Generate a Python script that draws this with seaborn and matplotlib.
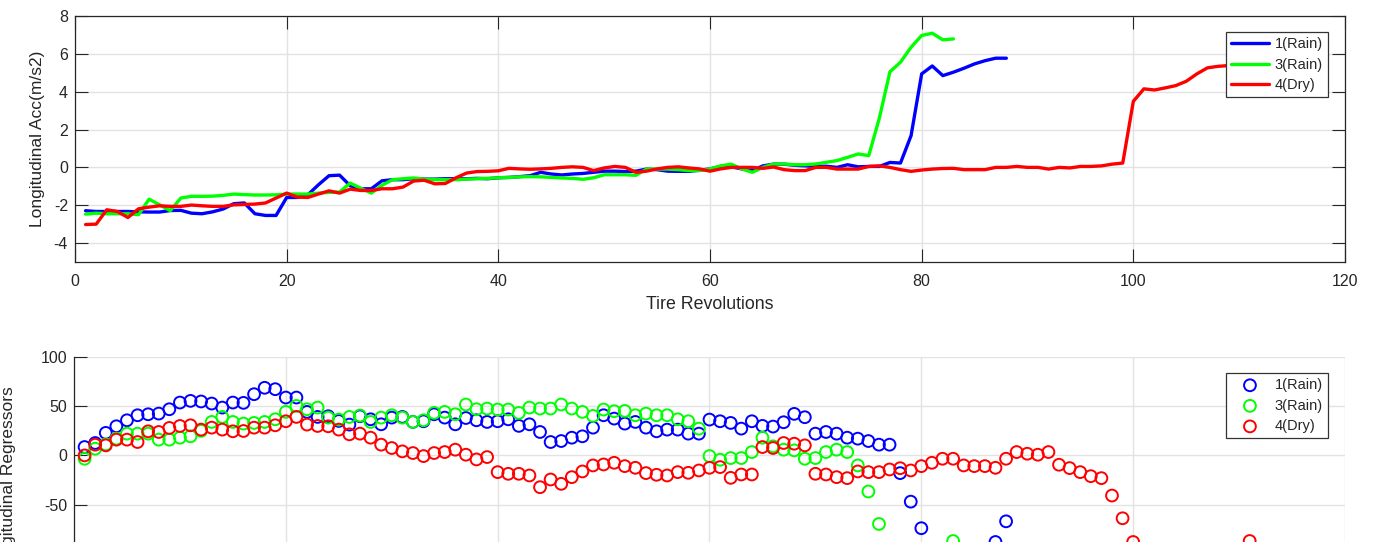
import matplotlib
matplotlib.use("Agg")
import matplotlib.pyplot as plt
import numpy as np
import pandas as pd
import seaborn as sns

# Series names and colours
runs = ["1(Rain)", "3(Rain)", "4(Dry)"]
run_colors = ["#0000ff", "#00ff00", "#ff0000"]

# Longitudinal acceleration per tire revolution (m/s2)
acc_rain1 = [-2.29, -2.33, -2.33, -2.33, -2.33, -2.35, -2.36, -2.36, -2.28, -2.27,
             -2.42, -2.45, -2.35, -2.20, -1.92, -1.88, -2.45, -2.54, -2.54, -1.59,
             -1.59, -1.45, -0.92, -0.44, -0.41, -0.97, -1.13, -1.13, -0.71, -0.65,
             -0.65, -0.60, -0.62, -0.62, -0.60, -0.60, -0.60, -0.58, -0.60, -0.55,
             -0.53, -0.49, -0.44, -0.26, -0.35, -0.40, -0.35, -0.32, -0.26, -0.20,
             -0.20, -0.22, -0.20, -0.09, -0.12, -0.20, -0.21, -0.21, -0.15, -0.08,
             0.05, 0.03, -0.08, -0.17, 0.08, 0.17, 0.17, 0.11, 0.08, 0.05,
             0.06, 0.00, 0.14, 0.03, 0.05, 0.05, 0.26, 0.23, 1.68, 4.94,
             5.36, 4.85, 5.03, 5.24, 5.47, 5.64, 5.77, 5.77]
acc_rain3 = [-2.47, -2.42, -2.45, -2.45, -2.45, -2.50, -1.68, -1.98, -2.29, -1.62,
             -1.53, -1.53, -1.52, -1.48, -1.41, -1.44, -1.46, -1.46, -1.45, -1.41,
             -1.41, -1.41, -1.36, -1.32, -1.30, -0.83, -1.10, -1.36, -0.95, -0.65,
             -0.60, -0.56, -0.62, -0.65, -0.65, -0.65, -0.62, -0.60, -0.58, -0.55,
             -0.53, -0.50, -0.49, -0.50, -0.53, -0.56, -0.58, -0.63, -0.55, -0.39,
             -0.39, -0.39, -0.42, -0.09, -0.09, -0.09, -0.12, -0.17, -0.17, -0.08,
             0.08, 0.17, -0.08, -0.26, 0.00, 0.18, 0.18, 0.14, 0.14, 0.18,
             0.27, 0.36, 0.53, 0.71, 0.62, 2.60, 5.05, 5.56, 6.35, 6.97,
             7.09, 6.74, 6.79]
acc_dry4 = [-3.02, -3.00, -2.24, -2.33, -2.65, -2.19, -2.10, -2.03, -2.06, -2.06,
            -1.99, -2.03, -2.06, -2.06, -1.98, -1.96, -1.94, -1.88, -1.62, -1.36,
            -1.57, -1.59, -1.41, -1.24, -1.36, -1.15, -1.22, -1.22, -1.13, -1.13,
            -1.04, -0.72, -0.68, -0.87, -0.85, -0.55, -0.30, -0.22, -0.21, -0.18,
            -0.05, -0.08, -0.10, -0.08, -0.05, 0.00, 0.03, 0.00, -0.17, -0.03,
            0.05, 0.00, -0.26, -0.20, -0.08, 0.00, 0.03, -0.03, -0.08, -0.20,
            -0.08, 0.00, 0.00, 0.00, -0.05, 0.02, -0.12, -0.17, -0.17, 0.00,
            0.00, -0.09, -0.09, -0.09, 0.05, 0.08, 0.00, -0.12, -0.21, -0.14,
            -0.09, -0.06, -0.05, -0.12, -0.12, -0.12, 0.00, 0.00, 0.05, 0.00,
            0.00, -0.09, 0.00, -0.03, 0.05, 0.05, 0.08, 0.17, 0.23, 3.49,
            4.15, 4.09, 4.20, 4.32, 4.55, 4.94, 5.26, 5.34, 5.38, 5.42,
            5.45]

# Longitudinal regressors per tire revolution
reg_rain1 = [8.5, 12.6, 22.9, 29.6, 35.7, 40.8, 41.8, 42.5, 46.9, 53.7,
             55.4, 54.8, 52.7, 48.6, 53.7, 53.4, 62.2, 68.7, 67.3, 58.8,
             58.8, 44.2, 39.1, 39.8, 35.0, 31.3, 39.8, 36.7, 31.6, 38.4,
             39.1, 34.0, 34.7, 41.8, 38.4, 31.6, 38.0, 35.7, 34.0, 34.7,
             36.7, 30.0, 31.6, 23.8, 13.6, 14.6, 18.0, 19.4, 28.2, 40.8,
             37.4, 32.3, 34.0, 28.2, 24.5, 26.2, 26.2, 22.1, 22.1, 36.4,
             34.7, 33.0, 27.2, 34.7, 30.0, 29.3, 33.7, 42.2, 38.8, 22.1,
             23.8, 22.1, 18.0, 17.0, 14.6, 10.9, 10.9, -18.0, -47.0, -74.0,
             -100.0, -115.0, -120.0, -118.0, -110.0, -100.0, -88.0, -67.0]
reg_rain3 = [-3.4, 6.8, 11.2, 17.0, 22.1, 22.1, 22.1, 16.0, 16.0, 18.0,
             19.4, 25.0, 34.0, 39.1, 34.0, 32.3, 33.0, 34.0, 36.7, 44.2,
             50.3, 46.9, 48.6, 38.4, 36.4, 39.1, 40.5, 34.0, 38.4, 40.8,
             38.4, 34.0, 35.7, 43.2, 44.2, 41.8, 51.7, 46.9, 47.6, 46.6,
             46.6, 43.2, 48.6, 47.6, 47.6, 51.7, 47.6, 44.2, 40.1, 46.6,
             44.9, 45.2, 40.8, 42.5, 40.8, 40.8, 36.7, 34.7, 27.2, -0.7,
             -4.4, -2.7, -2.7, 3.4, 18.0, 9.2, 5.8, 5.1, -3.4, -2.7,
             3.4, 5.8, 3.4, -10.2, -36.7, -69.7, -100.0, -120.0, -130.0, -125.0,
             -115.0, -100.0, -87.0]
reg_dry4 = [0.0, 10.9, 10.2, 16.0, 16.0, 13.6, 24.5, 23.8, 27.9, 29.9,
            30.6, 26.2, 28.2, 26.2, 24.5, 24.8, 28.2, 28.2, 30.6, 34.7,
            39.1, 31.3, 29.9, 29.6, 26.2, 21.4, 22.1, 18.0, 10.9, 7.5,
            4.1, 2.4, -0.7, 2.4, 3.4, 5.8, 0.7, -4.1, -1.7, -17.0,
            -18.7, -18.7, -20.4, -32.3, -24.5, -28.9, -22.1, -16.3, -10.2, -9.2,
            -7.5, -10.9, -12.6, -18.0, -19.7, -20.4, -17.0, -17.7, -15.3, -12.6,
            -11.9, -22.8, -19.4, -19.4, 8.5, 7.5, 12.6, 11.9, 10.2, -18.7,
            -19.4, -22.1, -23.1, -16.3, -17.0, -17.0, -14.3, -13.0, -15.3, -10.9,
            -7.5, -3.4, -3.4, -10.2, -10.9, -10.9, -12.6, -3.4, 3.4, 1.7,
            0.7, 3.4, -9.5, -12.9, -17.0, -21.1, -23.1, -40.8, -63.9, -88.0,
            -105.0, -115.0, -120.0, -122.0, -120.0, -115.0, -110.0, -105.0, -100.0, -95.0,
            -87.0]

x_ticks = [0, 20, 40, 60, 80, 100, 120]
acc_ticks = [-4, -2, 0, 2, 4, 6, 8]
reg_ticks = [-50, 0, 50, 100]

acc_series = [acc_rain1, acc_rain3, acc_dry4]
reg_series = [reg_rain1, reg_rain3, reg_dry4]

sns.set_theme(style="white")
plt.rcParams["font.family"] = ["Liberation Sans", "DejaVu Sans"]
plt.rcParams["axes.unicode_minus"] = False

TXT = "#262626"
GRID = "#e2e2e2"

W, H = 1377, 542
fig = plt.figure(figsize=(W / 100, H / 100), dpi=100)
fig.patch.set_facecolor("white")


def px_axes(left, top, right, bottom):
    return fig.add_axes([left / W, (H - bottom) / H, (right - left) / W, (bottom - top) / H])


ax1 = px_axes(75, 16, 1345, 262)
ax2 = px_axes(74, 357, 1345, 603)

# --- acceleration traces ---
for name, vals, col in zip(runs, acc_series, run_colors):
    df = pd.DataFrame({"rev": np.arange(1, len(vals) + 1), "acc": vals})
    sns.lineplot(data=df, x="rev", y="acc", color=col, linewidth=2.4,
                 label=name, ax=ax1, legend=False)

ax1.set_xlim(0, 120)
ax1.set_ylim(-5, 8)
ax1.set_xticks(x_ticks)
ax1.set_yticks(acc_ticks)
ax1.set_xlabel("Tire Revolutions", fontsize=12.8, color=TXT, labelpad=5)
ax1.set_ylabel("Longitudinal Acc(m/s2)", fontsize=12.5, color=TXT, labelpad=6)
ax1.grid(True, color=GRID, linewidth=1.0)
ax1.set_axisbelow(True)
for side in ["top", "bottom", "left", "right"]:
    ax1.spines[side].set_visible(True)
    ax1.spines[side].set_color(TXT)
    ax1.spines[side].set_linewidth(0.9)
ax1.tick_params(direction="in", length=9.3, width=0.8, colors=TXT,
                labelsize=11.5, top=True, right=True, bottom=True, left=True,
                labeltop=False, labelright=False)
ax1.tick_params(axis="x", pad=9)
ax1.tick_params(axis="y", pad=5)
leg1 = ax1.legend(loc="upper right", bbox_to_anchor=(0.9866, 0.935), borderaxespad=0,
                  fancybox=False, framealpha=1, edgecolor="#333333", fontsize=10.5,
                  handlelength=2.6, handletextpad=0.4, labelspacing=0.45,
                  borderpad=0.35)
leg1.get_frame().set_linewidth(0.9)
for t in leg1.get_texts():
    t.set_color(TXT)

# --- regressor scatter ---
for name, vals, col in zip(runs, reg_series, run_colors):
    xs = np.arange(1, len(vals) + 1)
    sns.scatterplot(x=xs, y=vals, ax=ax2, marker="o", s=72,
                    facecolors="none", edgecolor=col, linewidth=1.4,
                    label=name, legend=False, clip_on=True)

ax2.set_xlim(0, 120)
ax2.set_ylim(-150, 100)
ax2.set_xticks(x_ticks)
ax2.set_yticks(reg_ticks)
ax2.set_xlabel("")
ax2.set_ylabel("Longitudinal Regressors", fontsize=12.5, color=TXT)
ax2.yaxis.set_label_coords(-0.0455, 0.5)
ax2.grid(True, color=GRID, linewidth=1.0)
ax2.set_axisbelow(True)
ax2.spines["top"].set_visible(False)
ax2.spines["right"].set_visible(False)
for side in ["bottom", "left"]:
    ax2.spines[side].set_visible(True)
    ax2.spines[side].set_color(TXT)
    ax2.spines[side].set_linewidth(0.9)
# the x tick labels of the lower panel fall below the figure edge
ax2.tick_params(direction="in", length=9.3, width=0.8, colors=TXT,
                labelsize=11.5, top=False, right=False, bottom=True, left=True,
                labelbottom=False)
ax2.tick_params(axis="y", pad=5)
leg2 = ax2.legend(loc="upper right", bbox_to_anchor=(0.9866, 0.935), borderaxespad=0,
                  fancybox=False, framealpha=1, edgecolor="#333333", fontsize=10.5,
                  handlelength=2.6, handletextpad=0.4, labelspacing=0.45,
                  borderpad=0.35)
leg2.get_frame().set_linewidth(0.9)
for t in leg2.get_texts():
    t.set_color(TXT)

fig.savefig("out.png", dpi=100, facecolor="white")
